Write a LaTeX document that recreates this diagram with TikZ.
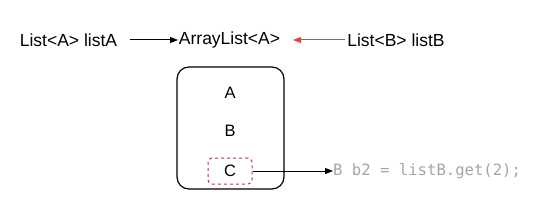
\documentclass[tikz,border=0pt]{standalone}
\usepackage{fontspec}
\setmainfont{Liberation Sans}
\setmonofont{DejaVu Sans Mono}
\usetikzlibrary{arrows.meta}
\definecolor{redarrow}{RGB}{220,70,60}
\definecolor{dashred}{RGB}{170,60,70}
\definecolor{codegray}{RGB}{165,165,165}
\begin{document}
\begin{tikzpicture}[x=1pt,y=-1pt,
  lbl/.style={inner sep=0pt,font=\fontsize{17.5}{20}\selectfont},
  inlbl/.style={inner sep=0pt,font=\fontsize{16.5}{20}\selectfont},
  conn/.style={line width=1pt,-{Triangle[length=8pt,width=6pt]}},
  code/.style={inner sep=0pt,anchor=west,text=codegray,font=\ttfamily\fontsize{15.6}{18}\selectfont}]
\useasboundingbox (0,0) rectangle (540,222);
\node[lbl] (la) at (68.5,40) {List<A> listA};
\node[lbl] (al) at (229.5,40) {ArrayList<A>};
\node[lbl] (lb) at (396,40) {List<B> listB};
\coordinate (s1) at (130,40);
\coordinate (t1) at (178,40);
\coordinate (s2) at (345,40);
\coordinate (t2) at (293,40);
\draw[conn] (s1) -- (t1);
\draw[conn,draw=redarrow,fill=redarrow] (s2) -- (t2);
\draw[line width=1.2pt,rounded corners=12pt] (177,67) rectangle (284,189);
\node[inlbl] (a) at (230,93) {A};
\node[inlbl] (b) at (230,131) {B};
\node[inlbl,draw=dashred,dashed,line width=1pt,rounded corners=4pt,minimum width=44pt,minimum height=26pt] (c) at (230,171) {C};
\node[code] (code) at (333,171) {B b2 = listB.get(2);};
\draw[conn] (c.east) -- (code.west);
\end{tikzpicture}
\end{document}
